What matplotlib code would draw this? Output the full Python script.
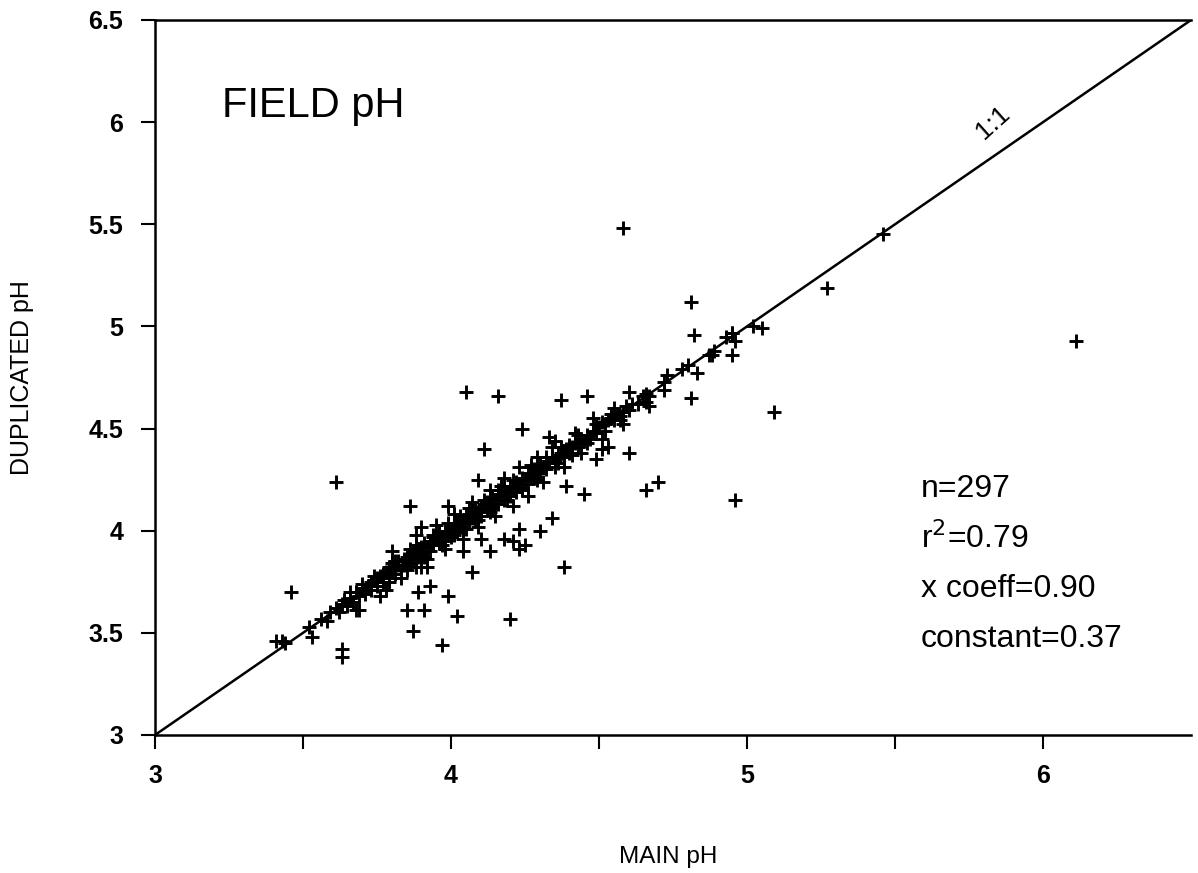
import matplotlib
matplotlib.use("Agg")
import matplotlib.pyplot as plt
from matplotlib.ticker import FixedLocator, FuncFormatter

plt.rcParams["font.family"] = ["Liberation Sans", "DejaVu Sans"]

# points lying along the 1:1 line (main pH, duplicated pH)
band_main = [
    3.44, 3.52, 3.56, 3.58, 3.59, 3.61, 3.62, 3.63, 3.64, 3.65, 3.66, 3.67, 3.68, 3.69,
    3.70, 3.71, 3.72, 3.73, 3.73, 3.74, 3.75, 3.75, 3.76, 3.77, 3.77, 3.78, 3.79, 3.79,
    3.80, 3.80, 3.81, 3.82, 3.82, 3.83, 3.84, 3.84, 3.85, 3.86, 3.86, 3.87, 3.87, 3.88,
    3.89, 3.89, 3.90, 3.90, 3.91, 3.91, 3.92, 3.93, 3.93, 3.94, 3.94, 3.95, 3.96, 3.96,
    3.97, 3.98, 3.98, 3.99, 4.00, 4.00, 4.01, 4.02, 4.02, 4.03, 4.04, 4.04, 4.05, 4.06,
    4.06, 4.07, 4.08, 4.08, 4.09, 4.10, 4.10, 4.11, 4.12, 4.12, 4.13, 4.14, 4.14, 4.15,
    4.16, 4.16, 4.17, 4.18, 4.18, 4.19, 4.20, 4.20, 4.21, 4.22, 4.22, 4.23, 4.24, 4.24,
    4.25, 4.26, 4.26, 4.27, 4.28, 4.28, 4.29, 4.30, 4.30, 4.31, 4.32, 4.32, 4.33, 4.34,
    4.35, 4.36, 4.36, 4.37, 4.38, 4.39, 4.40, 4.40, 4.41, 4.42, 4.43, 4.44, 4.45, 4.46,
    4.47, 4.48, 4.49, 4.50, 4.51, 4.52, 4.53, 4.54, 4.55, 4.56, 4.57, 4.58, 4.60, 4.61,
    4.63, 4.65, 4.67, 4.72, 4.78, 4.87, 4.93, 4.95, 5.02,
    3.78, 3.83, 3.88, 3.92, 3.95, 3.98, 4.01, 4.04, 4.07, 4.09, 4.13, 4.15, 4.18, 4.21,
    4.23, 4.26, 4.29, 4.31, 4.34, 4.38, 4.42, 4.44, 4.48, 4.51, 4.55, 4.58,
]
band_dup = [
    3.45, 3.53, 3.57, 3.56, 3.60, 3.62, 3.60, 3.64, 3.66, 3.63, 3.67, 3.65, 3.70, 3.68,
    3.72, 3.69, 3.73, 3.71, 3.75, 3.76, 3.73, 3.77, 3.78, 3.75, 3.79, 3.80, 3.77, 3.82,
    3.81, 3.84, 3.79, 3.83, 3.85, 3.81, 3.86, 3.83, 3.87, 3.84, 3.88, 3.86, 3.90, 3.89,
    3.87, 3.91, 3.92, 3.88, 3.90, 3.94, 3.92, 3.90, 3.95, 3.93, 3.97, 3.96, 3.94, 3.98,
    3.97, 3.95, 4.00, 3.99, 4.01, 3.97, 4.03, 4.00, 4.04, 4.02, 4.05, 4.01, 4.07, 4.04,
    4.08, 4.06, 4.10, 4.05, 4.09, 4.11, 4.07, 4.13, 4.10, 4.14, 4.12, 4.16, 4.11, 4.15,
    4.18, 4.13, 4.17, 4.20, 4.15, 4.19, 4.22, 4.17, 4.21, 4.24, 4.19, 4.23, 4.26, 4.21,
    4.25, 4.28, 4.23, 4.27, 4.30, 4.26, 4.29, 4.32, 4.28, 4.31, 4.34, 4.30, 4.33, 4.36,
    4.34, 4.37, 4.33, 4.38, 4.36, 4.40, 4.38, 4.42, 4.41, 4.43, 4.41, 4.45, 4.44, 4.47,
    4.45, 4.49, 4.48, 4.51, 4.53, 4.52, 4.54, 4.55, 4.54, 4.57, 4.56, 4.58, 4.59, 4.62,
    4.62, 4.66, 4.66, 4.73, 4.79, 4.86, 4.95, 4.97, 5.00,
    3.71, 3.77, 3.82, 3.86, 4.03, 3.91, 4.08, 3.96, 4.14, 4.02, 4.20, 4.07, 4.26, 4.12,
    4.31, 4.17, 4.36, 4.24, 4.41, 4.31, 4.48, 4.38, 4.55, 4.45, 4.60, 4.52,
]

# extra points thickening the band
edge_main = [
    3.74, 3.79, 3.81, 3.85, 3.88, 3.91, 3.94, 3.97, 3.99, 4.01, 4.03, 4.05, 4.07, 4.09,
    4.11, 4.13, 4.16, 4.19, 4.21, 4.24, 4.27, 4.29, 4.32, 4.35, 4.37, 4.41, 4.43, 4.46,
    4.49, 4.52, 4.54, 4.57, 4.59, 3.70, 3.66, 3.86, 3.96, 4.06, 4.17, 4.27,
]
edge_dup = [
    3.78, 3.75, 3.85, 3.81, 3.93, 3.87, 3.98, 3.93, 4.04, 3.98, 4.07, 4.01, 4.11, 4.05,
    4.15, 4.09, 4.20, 4.15, 4.25, 4.20, 4.31, 4.25, 4.36, 4.31, 4.41, 4.37, 4.47, 4.43,
    4.52, 4.49, 4.57, 4.54, 4.61, 3.74, 3.70, 3.91, 4.00, 4.11, 4.22, 4.32,
]

# scattered points away from the line
off_main = [
    4.05, 4.16, 4.37, 4.46, 4.60, 4.24, 4.33, 4.35, 4.11, 4.51, 4.53, 4.60, 4.49, 3.61,
    4.09, 4.39, 4.45, 4.66, 3.86, 3.99, 3.90, 3.88, 4.34, 4.30, 4.23, 4.18, 4.21, 4.25,
    4.23, 4.10, 3.80, 4.04, 4.13, 4.07, 4.38, 3.90, 3.92, 3.93, 3.89, 3.99, 3.76, 3.85,
    3.91, 4.02, 4.20, 3.87, 3.97, 3.63, 3.63, 3.53, 3.68, 3.69, 3.46, 3.41, 3.43, 4.58,
    4.81, 4.82, 4.95, 4.96, 4.95, 4.88, 4.89, 4.80, 4.83, 4.81, 4.73, 4.72, 4.66, 4.66,
    4.67, 4.70, 4.96, 5.27, 5.05, 5.09, 5.46, 6.11,
]
off_dup = [
    4.68, 4.66, 4.64, 4.66, 4.68, 4.50, 4.46, 4.44, 4.40, 4.40, 4.41, 4.38, 4.35, 4.24,
    4.25, 4.22, 4.18, 4.20, 4.12, 4.12, 4.02, 3.98, 4.06, 4.00, 4.01, 3.96, 3.95, 3.93,
    3.91, 3.96, 3.90, 3.90, 3.90, 3.80, 3.82, 3.82, 3.82, 3.73, 3.70, 3.68, 3.68, 3.61,
    3.61, 3.58, 3.57, 3.51, 3.44, 3.42, 3.38, 3.48, 3.61, 3.61, 3.70, 3.46, 3.46, 5.48,
    5.12, 4.96, 4.97, 4.93, 4.86, 4.86, 4.88, 4.81, 4.77, 4.65, 4.76, 4.69, 4.67, 4.63,
    4.61, 4.24, 4.15, 5.19, 4.99, 4.58, 5.45, 4.93,
]

stats_lines = ["n=297", "r$^2$=0.79", "x coeff=0.90", "constant=0.37"]
x_ticks = [3, 3.5, 4, 4.5, 5, 5.5, 6]
y_ticks = [3, 3.5, 4, 4.5, 5, 5.5, 6, 6.5]

fig = plt.figure(figsize=(11.98, 8.73), dpi=100)
ax = fig.add_axes([0.1294, 0.1581, 0.8648, 0.819])

ax.plot([3, 6.5], [3, 6.5], color="black", lw=1.8, zorder=2)
ax.plot(band_main + edge_main + off_main, band_dup + edge_dup + off_dup,
        linestyle="none", marker="+", markersize=10, mew=2.1, color="black", zorder=3)

ax.set_xlim(3, 6.5)
ax.set_ylim(3, 6.5)
ax.spines["right"].set_visible(False)
for s in ("left", "bottom", "top"):
    ax.spines[s].set_linewidth(1.8)

ax.xaxis.set_major_locator(FixedLocator(x_ticks))
ax.xaxis.set_major_formatter(FuncFormatter(lambda v, p: f"{v:g}" if v == int(v) else ""))
ax.yaxis.set_major_locator(FixedLocator(y_ticks))
ax.yaxis.set_major_formatter(FuncFormatter(lambda v, p: f"{v:g}"))
ax.tick_params(axis="both", direction="out", length=10, width=1.5, labelsize=18)
ax.tick_params(axis="x", pad=11)
ax.tick_params(axis="y", pad=13)
for lab in ax.get_xticklabels() + ax.get_yticklabels():
    lab.set_fontweight("bold")

ax.set_xlabel("MAIN pH", fontsize=17.5)
ax.xaxis.label.set_va("center")
ax.xaxis.set_label_coords(0.495, -0.171)
ax.set_ylabel("DUPLICATED pH", fontsize=18)
ax.yaxis.label.set_va("center")
ax.yaxis.set_label_coords(-0.128, 0.5)

ax.text(0.065, 0.88, "FIELD pH", transform=ax.transAxes, fontsize=30,
        ha="left", va="center")
ax.text(5.83, 6.0, "1:1", fontsize=19, rotation=42, ha="center", va="center")
for i, line in enumerate(stats_lines):
    ax.text(0.739, 0.344 - i * 0.07, line, transform=ax.transAxes, fontsize=23,
            ha="left", va="center")

fig.savefig("out.png", dpi=100)
